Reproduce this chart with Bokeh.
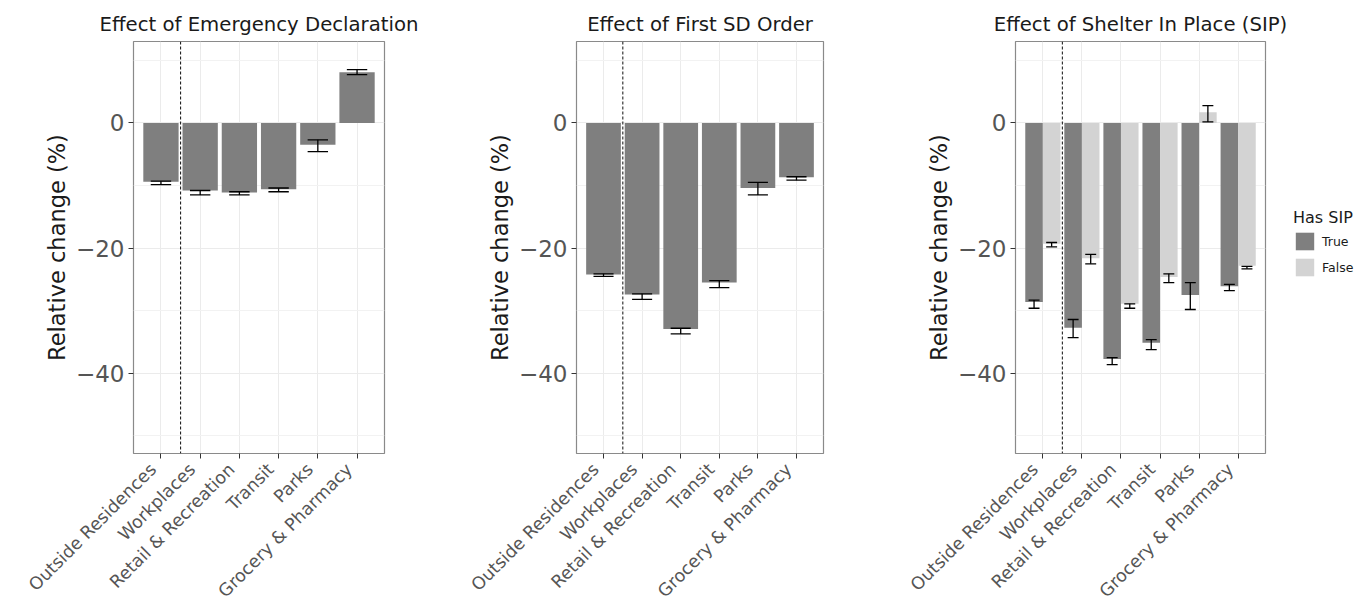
import math
from bokeh.plotting import figure
from bokeh.models import (ColumnDataSource, FactorRange, Range1d, FixedTicker, Span,
                          CustomJSTickFormatter, Legend, LegendItem)
from bokeh.transform import dodge
from bokeh.layouts import row
from bokeh.embed import file_html
from bokeh.resources import INLINE

categories = ["Outside Residences", "Workplaces", "Retail & Recreation",
              "Transit", "Parks", "Grocery & Pharmacy"]

# Panel 1: Effect of Emergency Declaration
emerg_mean = [-9.4, -10.8, -11.1, -10.6, -3.5, 8.1]
emerg_lo = [-9.85, -11.5, -11.5, -11.0, -4.6, 7.7]
emerg_hi = [-9.3, -10.8, -11.0, -10.4, -2.7, 8.5]

# Panel 2: Effect of First SD Order
sd_mean = [-24.2, -27.4, -32.9, -25.5, -10.4, -8.7]
sd_lo = [-24.5, -28.2, -33.7, -26.3, -11.5, -9.15]
sd_hi = [-24.1, -27.3, -32.8, -25.2, -9.5, -8.6]

# Panel 3: Effect of Shelter In Place (SIP), split by Has SIP
sip_true_mean = [-28.6, -32.7, -37.7, -35.1, -27.5, -26.1]
sip_true_lo = [-29.6, -34.3, -38.6, -36.2, -29.8, -26.8]
sip_true_hi = [-28.3, -31.4, -37.5, -34.6, -25.5, -25.8]
sip_false_mean = [-19.3, -21.6, -28.9, -24.6, 1.7, -22.8]
sip_false_lo = [-19.8, -22.5, -29.6, -25.5, 0.15, -23.3]
sip_false_hi = [-19.1, -21.0, -28.9, -24.1, 2.75, -22.9]

y_ticks = [-40, -20, 0]
y_minor = [-50, -30, -10, 10]
titles = ["Effect of Emergency Declaration", "Effect of First SD Order",
          "Effect of Shelter In Place (SIP)"]
y_label = "Relative change (%)"
legend_title = "Has SIP"
legend_labels = ["True", "False"]

DARK = "#7f7f7f"
LIGHT = "#d3d3d3"
FONT = "DejaVu Sans"
H = 612
TOP = 41
FRAME_H = 412
BOTTOM = H - TOP - FRAME_H


def make_fig(title, width, left, right):
    p = figure(width=width, height=H, x_range=FactorRange(*categories),
               y_range=Range1d(-52.8, 13.0), output_backend="svg",
               toolbar_location=None, title=title,
               min_border_left=left, min_border_right=right,
               min_border_top=TOP, min_border_bottom=BOTTOM)
    p.x_range.range_padding = 0.2
    p.x_range.range_padding_units = "absolute"
    p.title.text_font = FONT
    p.title.text_font_size = "19.7px"
    p.title.text_font_style = "normal"
    p.title.align = "center"
    p.title.text_color = "#1a1a1a"
    p.title.standoff = 11
    p.outline_line_color = "#8a8a8a"
    p.outline_line_width = 1.2
    p.background_fill_color = "white"
    p.border_fill_color = "white"
    for ax in (p.xaxis[0], p.yaxis[0]):
        ax.axis_line_color = None
        ax.major_tick_line_color = "#333333"
        ax.major_tick_out = 5
        ax.major_tick_in = 0
        ax.minor_tick_line_color = None
        ax.major_label_text_font = FONT
        ax.major_label_text_color = "#555555"
    p.yaxis.ticker = FixedTicker(ticks=y_ticks, minor_ticks=y_minor)
    p.yaxis.formatter = CustomJSTickFormatter(
        code="return tick < 0 ? '\u2212' + Math.abs(tick) : tick.toString();")
    p.yaxis.major_label_text_font_size = "23px"
    p.yaxis.major_label_standoff = 4
    p.yaxis.axis_label = y_label
    p.yaxis.axis_label_text_font = FONT
    p.yaxis.axis_label_text_font_size = "22.5px"
    p.yaxis.axis_label_text_font_style = "normal"
    p.yaxis.axis_label_text_color = "#1a1a1a"
    p.yaxis.axis_label_standoff = 3
    p.xaxis.formatter = CustomJSTickFormatter(code="return tick + '\u00a0\u00a0';")
    p.xaxis.major_label_orientation = math.pi / 4
    p.xaxis.major_label_text_font_size = "17.5px"
    p.xaxis.major_label_standoff = 0
    p.xgrid.grid_line_color = "#ebebeb"
    p.ygrid.grid_line_color = "#ebebeb"
    p.ygrid.minor_grid_line_color = "#f2f2f2"
    return p


def single_panel(title, mean, lo, hi, width, left, right):
    p = make_fig(title, width, left, right)
    src = ColumnDataSource(dict(cat=categories, mean=mean, lo=lo, hi=hi))
    p.vbar(x="cat", top="mean", bottom=0, width=0.9, source=src,
           fill_color=DARK, line_color=None)
    p.segment(x0="cat", x1="cat", y0="lo", y1="hi", source=src,
              line_color="black", line_width=1.3)
    for f in ("lo", "hi"):
        p.segment(x0=dodge("cat", -0.26, range=p.x_range),
                  x1=dodge("cat", 0.26, range=p.x_range),
                  y0=f, y1=f, source=src, line_color="black", line_width=1.3)
    p.add_layout(Span(location=1.0, dimension="height", line_color="#222222",
                      line_dash="3 2", line_width=1.1))
    return p


p1 = single_panel(titles[0], emerg_mean, emerg_lo, emerg_hi, 420, 133, 36)
p2 = single_panel(titles[1], sd_mean, sd_lo, sd_hi, 430, 156, 27)

# Panel 3
p3 = make_fig(titles[2], 512, 165, 97)
sip_sources = []
for mean, lo, hi, off, color in ((sip_true_mean, sip_true_lo, sip_true_hi, -0.225, DARK),
                                 (sip_false_mean, sip_false_lo, sip_false_hi, 0.225, LIGHT)):
    src = ColumnDataSource(dict(cat=categories, mean=mean, lo=lo, hi=hi))
    sip_sources.append((src, color))
    p3.vbar(x=dodge("cat", off, range=p3.x_range), top="mean", bottom=0,
            width=0.45, source=src, fill_color=color, line_color=None)
    p3.segment(x0=dodge("cat", off, range=p3.x_range), x1=dodge("cat", off, range=p3.x_range),
               y0="lo", y1="hi", source=src, line_color="black", line_width=1.3)
    for f in ("lo", "hi"):
        p3.segment(x0=dodge("cat", off - 0.14, range=p3.x_range),
                   x1=dodge("cat", off + 0.14, range=p3.x_range),
                   y0=f, y1=f, source=src, line_color="black", line_width=1.3)
p3.add_layout(Span(location=1.0, dimension="height", line_color="#222222",
                   line_dash="3 2", line_width=1.1))

# Legend holder: transparent figure laid over the right margin of panel 3
p4 = figure(width=97, height=H, x_range=FactorRange(*categories),
            y_range=Range1d(-52.8, 13.0), output_backend="svg", toolbar_location=None,
            x_axis_location=None, y_axis_location=None,
            min_border_left=0, min_border_right=0,
            min_border_top=TOP, min_border_bottom=BOTTOM,
            margin=(0, 0, 0, -97))
p4.outline_line_color = None
p4.background_fill_color = None
p4.border_fill_color = None
p4.grid.visible = False
leg_renderers = [p4.vbar(x="cat", top="mean", bottom=0, width=0.45, source=s,
                         fill_color=c, line_color=None, visible=False)
                 for s, c in sip_sources]
legend = Legend(items=[LegendItem(label=legend_labels[0], renderers=[leg_renderers[0]]),
                       LegendItem(label=legend_labels[1], renderers=[leg_renderers[1]])],
                location=(28, TOP + FRAME_H - 278), title=legend_title)
legend.inactive_fill_alpha = 0
legend.title_text_font = FONT
legend.title_text_font_size = "16px"
legend.title_text_font_style = "normal"
legend.title_text_color = "#1a1a1a"
legend.title_standoff = 3
legend.label_text_font = FONT
legend.label_text_font_size = "12.5px"
legend.label_text_color = "#1a1a1a"
legend.glyph_width = 23
legend.glyph_height = 22
legend.label_height = 22
legend.spacing = 4
legend.label_standoff = 6
legend.padding = 0
legend.margin = 0
legend.border_line_color = None
legend.background_fill_alpha = 0
p4.add_layout(legend, "center")

layout = row(p1, p2, p3, p4)
open("out.html", "w").write(file_html(layout, INLINE))
